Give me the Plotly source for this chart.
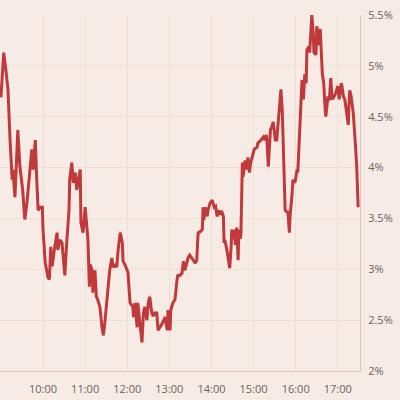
"""Intraday yield line, pink background, percent axis on the right"""

import pandas as pd
import plotly.graph_objects as go

# times of day (HH:MM) and the value at each one
times = [
    "09:00", "09:02", "09:04", "09:07", "09:09", "09:10", "09:13", "09:16", "09:17", "09:20",
    "09:23", "09:24", "09:27", "09:31", "09:34", "09:37", "09:41", "09:44", "09:46", "09:49",
    "09:51", "09:53", "09:56", "09:59", "10:00", "10:03", "10:07", "10:09", "10:11", "10:13",
    "10:16", "10:20", "10:21", "10:24", "10:27", "10:30", "10:31", "10:34", "10:36", "10:37",
    "10:38", "10:41", "10:43", "10:46", "10:48", "10:50", "10:53", "10:54", "10:57", "11:00",
    "11:03", "11:04", "11:06", "11:07", "11:10", "11:11", "11:14", "11:16", "11:18", "11:21",
    "11:24", "11:26", "11:28", "11:31", "11:33", "11:35", "11:38", "11:40", "11:43", "11:45",
    "11:47", "11:50", "11:53", "11:54", "11:57", "12:01", "12:04", "12:08", "12:09", "12:11",
    "12:14", "12:15", "12:18", "12:21", "12:23", "12:25", "12:28", "12:30", "12:32", "12:35",
    "12:37", "12:39", "12:42", "12:44", "12:50", "12:54", "12:57", "12:58", "13:01", "13:02",
    "13:05", "13:08", "13:11", "13:12", "13:15", "13:18", "13:20", "13:22", "13:27", "13:29",
    "13:34", "13:37", "13:39", "13:41", "13:44", "13:47", "13:48", "13:49", "13:51", "13:54",
    "13:55", "13:58", "14:01", "14:04", "14:06", "14:08", "14:11", "14:12", "14:15", "14:17",
    "14:18", "14:19", "14:22", "14:24", "14:26", "14:28", "14:29", "14:31", "14:32", "14:34",
    "14:36", "14:38", "14:39", "14:41", "14:42", "14:44", "14:45", "14:48", "14:50", "14:52",
    "14:54", "14:56", "14:58", "15:01", "15:05", "15:06", "15:09", "15:12", "15:14", "15:16",
    "15:18", "15:19", "15:21", "15:24", "15:26", "15:28", "15:31", "15:33", "15:36", "15:39",
    "15:41", "15:42", "15:43", "15:45", "15:48", "15:49", "15:51", "15:52", "15:55", "15:56",
    "15:59", "16:02", "16:03", "16:05", "16:06", "16:09", "16:11", "16:12", "16:13", "16:15",
    "16:16", "16:19", "16:20", "16:23", "16:25", "16:26", "16:29", "16:30", "16:32", "16:33",
    "16:35", "16:38", "16:40", "16:42", "16:43", "16:46", "16:48", "16:50", "16:52", "16:55",
    "16:57", "17:00", "17:02", "17:05", "17:06", "17:08", "17:10", "17:12", "17:15", "17:16",
    "17:17", "17:19", "17:22", "17:25", "17:27", "17:29",
]
values = [
    4.69, 4.94, 5.13, 4.96, 4.77, 4.77, 4.27, 3.88, 3.98, 3.71,
    4.20, 4.37, 4.01, 3.78, 3.49, 3.65, 3.95, 4.18, 3.98, 4.27,
    3.88, 3.58, 3.61, 3.61, 3.39, 3.07, 2.92, 2.90, 3.22, 3.03,
    3.19, 3.36, 3.19, 3.29, 3.26, 2.96, 2.94, 3.29, 3.52, 3.58,
    3.88, 4.05, 3.85, 3.95, 3.78, 3.88, 3.98, 3.46, 3.36, 3.61,
    3.36, 3.29, 2.83, 3.05, 2.99, 2.77, 2.99, 2.73, 2.70, 2.63,
    2.43, 2.35, 2.47, 2.70, 2.90, 2.99, 3.11, 3.02, 3.04, 3.02,
    3.19, 3.36, 3.26, 3.08, 3.04, 2.97, 2.67, 2.63, 2.53, 2.67,
    2.43, 2.67, 2.47, 2.28, 2.57, 2.63, 2.50, 2.67, 2.73, 2.57,
    2.54, 2.57, 2.57, 2.40, 2.47, 2.53, 2.40, 2.60, 2.40, 2.60,
    2.67, 2.70, 2.90, 2.94, 2.94, 2.96, 3.08, 2.99, 3.12, 3.14,
    3.09, 3.06, 3.09, 3.36, 3.37, 3.39, 3.61, 3.48, 3.61, 3.52,
    3.58, 3.65, 3.68, 3.61, 3.62, 3.52, 3.58, 3.54, 3.56, 3.52,
    3.26, 3.29, 3.19, 3.11, 3.01, 3.22, 3.39, 3.30, 3.39, 3.24,
    3.41, 3.09, 3.39, 3.30, 3.35, 4.05, 3.91, 4.07, 3.98, 4.10,
    3.95, 4.05, 4.11, 4.18, 4.20, 4.24, 4.26, 4.29, 4.30, 4.27,
    4.32, 4.27, 4.01, 4.37, 4.40, 4.45, 4.27, 4.27, 4.57, 4.77,
    4.54, 4.27, 4.01, 3.58, 3.56, 3.56, 3.36, 3.52, 3.75, 3.88,
    3.85, 3.98, 3.95, 4.27, 4.40, 4.86, 4.67, 4.89, 4.92, 4.83,
    5.16, 5.19, 5.13, 5.50, 5.33, 5.13, 5.11, 5.39, 5.20, 5.33,
    5.36, 4.92, 4.83, 4.57, 4.50, 4.70, 4.66, 4.88, 4.67, 4.70,
    4.73, 4.80, 4.67, 4.83, 4.80, 4.70, 4.67, 4.57, 4.42, 4.62,
    4.76, 4.70, 4.54, 4.24, 4.01, 3.61,
]
hour_ticks = ["10:00", "11:00", "12:00", "13:00", "14:00", "15:00", "16:00", "17:00"]
pct_ticks = [2, 2.5, 3, 3.5, 4, 4.5, 5, 5.5]

day = "2024-01-01 "
x = pd.to_datetime([day + t for t in times])
tickvals = pd.to_datetime([day + t for t in hour_ticks])

fig = go.Figure()
fig.add_trace(
    go.Scatter(
        x=x,
        y=values,
        mode="lines",
        line=dict(color="#c0393b", width=3),
        cliponaxis=False,
        hoverinfo="skip",
    )
)

fig.update_layout(
    width=400,
    height=400,
    margin=dict(l=0, r=40, t=15, b=29),
    paper_bgcolor="#f7ebe5",
    plot_bgcolor="#f7ebe5",
    showlegend=False,
    font=dict(family="Open Sans", size=11, color="#6b6461"),
    xaxis=dict(
        range=[day + "08:58:40", day + "17:31:40"],
        tickvals=tickvals,
        ticktext=hour_ticks,
        showgrid=True,
        gridcolor="#efdfd6",
        gridwidth=1,
        showline=True,
        linecolor="#d9c9c0",
        linewidth=1,
        ticks="outside",
        ticklen=8,
        tickcolor="rgba(0,0,0,0)",
        zeroline=False,
    ),
    yaxis=dict(
        side="right",
        range=[2, 5.5],
        tickvals=pct_ticks,
        ticktext=[f"{v:g}%" for v in pct_ticks],
        showgrid=True,
        gridcolor="#efdfd6",
        gridwidth=1,
        showline=True,
        linecolor="#d9c9c0",
        linewidth=1,
        ticks="outside",
        ticklen=5,
        tickcolor="rgba(0,0,0,0)",
        zeroline=False,
    ),
)

# the page's default body margin would push the 400x400 figure off by 8px
fig.write_html(
    "out.html",
    config={"displayModeBar": False},
    post_script="document.body.style.margin = '0';",
)
